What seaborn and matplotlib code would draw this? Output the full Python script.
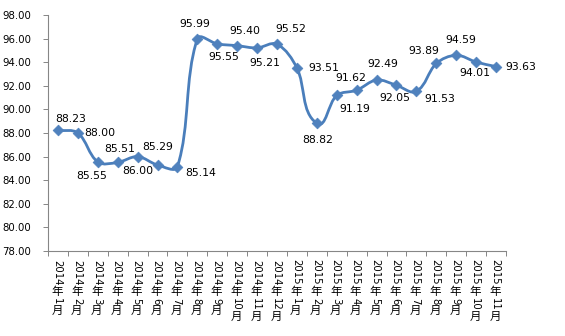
import re
import numpy as np
import pandas as pd
import seaborn as sns
import matplotlib
matplotlib.use("Agg")
import matplotlib.pyplot as plt
from matplotlib.path import Path
from matplotlib.patches import PathPatch

# ---- data ----
months = ["2014年1月", "2014年2月", "2014年3月", "2014年4月", "2014年5月", "2014年6月",
          "2014年7月", "2014年8月", "2014年9月", "2014年10月", "2014年11月", "2014年12月",
          "2015年1月", "2015年2月", "2015年3月", "2015年4月", "2015年5月", "2015年6月",
          "2015年7月", "2015年8月", "2015年9月", "2015年10月", "2015年11月"]
values = [88.23, 88.00, 85.55, 85.51, 86.00, 85.29, 85.14, 95.99, 95.55, 95.40, 95.21, 95.52,
          93.51, 88.82, 91.19, 91.62, 92.49, 92.05, 91.53, 93.89, 94.59, 94.01, 93.63]
yticks = [78, 80, 82, 84, 86, 88, 90, 92, 94, 96, 98]

# label offsets in pixels (dx right, dy down)
label_offsets = [(12.5, -11), (22, 0), (-6, 14), (2, -13), (0, 14.5), (0, -18), (23, 6),
                 (-3, -15), (7, 13.5), (8, -15), (8, 15), (14, -15.6), (27, 0), (1, 17),
                 (18, 14), (-5.5, -12.6), (6, -15.7), (-2, 13), (23, 8), (-12, -12.5),
                 (5, -15), (-1.5, 10.6), (25, 0)]

sns.set_theme(style="white")
plt.rcParams["font.family"] = ["DejaVu Sans", "Noto Sans CJK SC"]

LINE_C = "#4A7EBB"
MARK_C = "#4F81BD"
AXIS_C = "#868686"
PX = 0.72  # points per pixel at 100 dpi

fig = plt.figure(figsize=(5.65, 3.36), dpi=100)
ax = fig.add_axes([48 / 565, 1 - 251 / 336, 458 / 565, 236 / 336])

df = pd.DataFrame({"idx": np.arange(len(months)), "value": values, "month": months})
n = len(months)
ax.set_xlim(-0.5, n - 0.5)
ax.set_ylim(78, 98)

# smooth line (Excel-like: tangent along neighbours, length ~ segment length, in screen space)
xs = df["idx"].to_numpy(dtype=float)
ys = df["value"].to_numpy(dtype=float)
pts = ax.transData.transform(np.column_stack([xs, ys]))
K = 1.0 / 3.0
dirs = []
for i in range(n):
    a = pts[max(i - 1, 0)]
    b = pts[min(i + 1, n - 1)]
    d = b - a
    dirs.append(d / np.hypot(*d))
vpix = [tuple(pts[0])]
codes = [Path.MOVETO]
for i in range(n - 1):
    p1, p2 = pts[i], pts[i + 1]
    seg = np.hypot(*(p2 - p1))
    c1 = p1 + dirs[i] * seg * K
    c2 = p2 - dirs[i + 1] * seg * K
    vpix += [tuple(c1), tuple(c2), tuple(p2)]
    codes += [Path.CURVE4] * 3
vdata = ax.transData.inverted().transform(np.array(vpix))
ax.add_patch(PathPatch(Path(vdata, codes), fill=False, edgecolor=LINE_C, lw=2.0,
                       zorder=2, capstyle="round", joinstyle="round"))

sns.scatterplot(data=df, x="idx", y="value", marker="D", s=30, color=MARK_C,
                edgecolor=MARK_C, linewidth=0.5, ax=ax, zorder=3, legend=False)

# data labels
for (i, v), (dx, dy) in zip(enumerate(values), label_offsets):
    ax.annotate(f"{v:.2f}", xy=(i, v), xytext=(dx * PX, -dy * PX), textcoords="offset points",
                ha="center", va="center", fontsize=7.8, color="#000000", zorder=4)

ax.set_yticks(yticks)
ax.set_yticklabels([f"{t:.2f}" for t in yticks])
ax.set_xlabel("")
ax.set_ylabel("")
ax.set_xticks(range(n))
ax.set_xticklabels([""] * n)
ax.set_xticks(np.arange(-0.5, n, 1.0), minor=True)
ax.tick_params(axis="x", which="major", length=0)
ax.tick_params(axis="x", which="minor", length=3.6, width=0.7, color=AXIS_C, direction="out",
               bottom=True)
ax.tick_params(axis="y", which="major", length=3.6, width=0.7, color=AXIS_C, direction="out",
               left=True, labelsize=7.3, pad=8.5, labelcolor="#000000")
ax.set_xlim(-0.5, n - 0.5)
ax.set_ylim(78, 98)

for s in ["top", "right"]:
    ax.spines[s].set_visible(False)
for s in ["left", "bottom"]:
    ax.spines[s].set_color(AXIS_C)
    ax.spines[s].set_linewidth(0.8)

# vertical (stacked) category labels: digits rotated, CJK upright
DIGIT_ADV = 6.4
CJK_ADV = 12.6
for i, lab in enumerate(months):
    off = 8.5
    for run in re.findall(r"\d+|\D", lab):
        if run.isdigit():
            h = DIGIT_ADV * len(run)
            ax.annotate(run, xy=(i, 0), xycoords=("data", "axes fraction"),
                        xytext=(-1.0 * PX, -(off + h / 2) * PX), textcoords="offset points",
                        ha="center", va="center", rotation=-90, fontsize=7.25,
                        family="DejaVu Sans", color="#000000")
            off += h
        else:
            ax.annotate(run, xy=(i, 0), xycoords=("data", "axes fraction"),
                        xytext=(-1.0 * PX, -(off + CJK_ADV / 2) * PX), textcoords="offset points",
                        ha="center", va="center", rotation=0, fontsize=8.3,
                        family="Noto Sans CJK SC", color="#000000")
            off += CJK_ADV

fig.savefig("out.png", dpi=100)
